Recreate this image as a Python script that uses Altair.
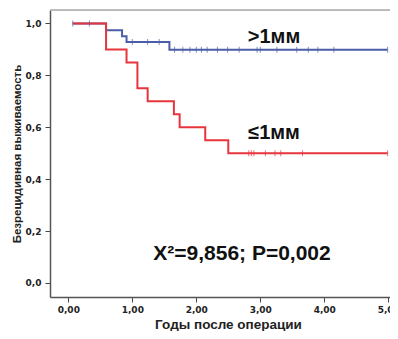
import altair as alt
import pandas as pd

# Kaplan-Meier step curves (time in years, survival)
blue_times = [0.07, 0.59, 0.84, 0.91, 1.58, 4.99]
blue_surv = [1.0, 0.974, 0.951, 0.929, 0.899, 0.899]
red_times = [0.07, 0.59, 0.91, 1.08, 1.24, 1.65, 1.74, 2.14, 2.50, 4.99]
red_surv = [1.0, 0.90, 0.85, 0.75, 0.70, 0.65, 0.60, 0.55, 0.50, 0.50]

# censored observations
blue_censor = [0.07, 0.33, 1.00, 1.24, 1.42, 1.66, 1.79, 1.90, 2.00, 2.08, 2.17,
               2.33, 2.49, 2.67, 2.95, 3.00, 3.26, 3.57, 3.75, 3.90, 4.15, 4.99]
red_censor = [2.82, 2.86, 2.90, 3.08, 3.23, 3.32, 3.66, 4.99]

groups = [">1мм", "≤1мм"]
colors = ["#4a5ea8", "#e8353d"]
annotation = "X²=9,856; P=0,002"


def step_value(times, surv, t):
    v = surv[0]
    for tt, s in zip(times, surv):
        if tt <= t:
            v = s
    return v


lines = pd.DataFrame(
    [{"t": t, "s": s, "g": groups[0]} for t, s in zip(blue_times, blue_surv)]
    + [{"t": t, "s": s, "g": groups[1]} for t, s in zip(red_times, red_surv)]
)
cens = pd.DataFrame(
    [{"t": t, "s": step_value(blue_times, blue_surv, t), "g": groups[0]} for t in blue_censor]
    + [{"t": t, "s": step_value(red_times, red_surv, t), "g": groups[1]} for t in red_censor]
)

xs = alt.Scale(domain=[-0.286, 5.027], nice=False, zero=False)
ys = alt.Scale(domain=[-0.054, 1.052], nice=False, zero=False)
cs = alt.Scale(domain=groups, range=colors)

lab_font = "Liberation Sans"
tick_font = "DejaVu Sans"

xaxis = alt.Axis(
    values=[0, 1, 2, 3, 4, 5],
    labelExpr="replace(format(datum.value, '.2f'), '.', ',')",
    title="Годы после операции",
    titleFont=lab_font, titleFontSize=13.5, titleFontWeight="bold", titleColor="#222",
    titleBaseline="alphabetic", titleY=31, titleX=178,
    labelFont=tick_font, labelFontSize=9, labelFontWeight="bold", labelColor="#222",
    labelPadding=3, tickSize=5, tickColor="#444", domainColor="#555", domainWidth=1.5,
    grid=False,
)
yaxis = alt.Axis(
    values=[0, 0.2, 0.4, 0.6, 0.8, 1.0],
    labelExpr="replace(format(datum.value, '.1f'), '.', ',')",
    title="Безрецидивная выживаемость",
    titleFont=lab_font, titleFontSize=11.5, titleFontWeight="bold", titleColor="#222",
    titleX=-28,
    labelFont=tick_font, labelFontSize=9, labelFontWeight="bold", labelColor="#222",
    labelPadding=4, tickSize=5, tickColor="#444", domainColor="#555", domainWidth=1.5,
    grid=False,
)

base_line = alt.Chart(lines).mark_line(interpolate="step-after", strokeWidth=2).encode(
    x=alt.X("t:Q", scale=xs, axis=xaxis),
    y=alt.Y("s:Q", scale=ys, axis=yaxis),
    color=alt.Color("g:N", scale=cs, legend=None),
    detail="g:N",
)

ticks = alt.Chart(cens).mark_tick(orient="vertical", size=6, thickness=1).encode(
    x=alt.X("t:Q", scale=xs),
    y=alt.Y("s:Q", scale=ys),
    color=alt.Color("g:N", scale=cs, legend=None),
)

top_line = alt.Chart(pd.DataFrame({"a": [0]})).mark_rule(color="#aaaaaa", strokeWidth=1.5).encode(
    x=alt.value(0), x2=alt.value(340), y=alt.value(0)
)

lbl = pd.DataFrame({"txt": groups, "px": [224, 224], "py": [32.5, 128.5]})
labels = alt.Chart(lbl).mark_text(
    font=lab_font, fontSize=20, fontWeight="bold", color="#111", baseline="alphabetic", align="center"
).encode(
    text="txt:N",
    x=alt.X("px:Q", scale=None),
    y=alt.Y("py:Q", scale=None),
)

ann = alt.Chart(pd.DataFrame({"txt": [annotation]})).mark_text(
    font=lab_font, fontSize=21, fontWeight="bold", color="#111", baseline="alphabetic", align="center"
).encode(
    text="txt:N",
    x=alt.value(192),
    y=alt.value(250),
)

chart = alt.layer(top_line, base_line, ticks, labels, ann).properties(
    width=340, height=287,
    autosize=alt.AutoSizeParams(type="none"),
    padding={"left": 42, "top": 2, "right": 0, "bottom": 34},
).configure_view(
    fill="#f0f0f0", strokeWidth=0
).configure(background="white")

chart.save("out.html", embed_options={"renderer": "svg", "actions": False})
